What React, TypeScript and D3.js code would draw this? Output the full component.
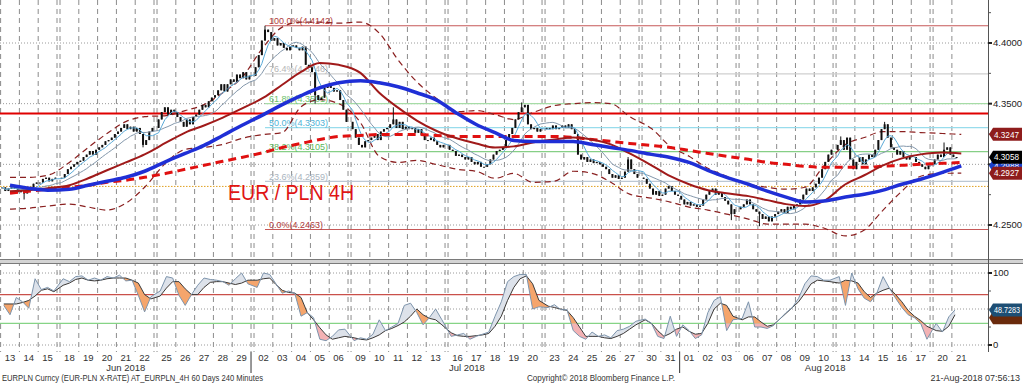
import React from "react";
import * as d3 from "d3";

// ---------------- DATA ----------------
const tradingDays = [
  "2018-06-13","2018-06-14","2018-06-15","2018-06-18","2018-06-19","2018-06-20","2018-06-21","2018-06-22",
  "2018-06-25","2018-06-26","2018-06-27","2018-06-28","2018-06-29","2018-07-02","2018-07-03","2018-07-04",
  "2018-07-05","2018-07-06","2018-07-09","2018-07-10","2018-07-11","2018-07-12","2018-07-13","2018-07-16",
  "2018-07-17","2018-07-18","2018-07-19","2018-07-20","2018-07-23","2018-07-24","2018-07-25","2018-07-26",
  "2018-07-27","2018-07-30","2018-07-31","2018-08-01","2018-08-02","2018-08-03","2018-08-06","2018-08-07",
  "2018-08-08","2018-08-09","2018-08-10","2018-08-13","2018-08-14","2018-08-15","2018-08-16","2018-08-17",
  "2018-08-20","2018-08-21"
];

// 4-hour closes, one row per trading day
const closes4h = [
  [4.281,4.278,4.280,4.283,4.280,4.277],
  [4.278,4.276,4.280,4.281,4.284,4.285],
  [4.285,4.288,4.289,4.286,4.288,4.289],
  [4.289,4.292,4.296,4.298,4.300,4.302],
  [4.303,4.306,4.308,4.311,4.308,4.312],
  [4.314,4.316,4.319,4.320,4.322,4.325],
  [4.327,4.330,4.333,4.329,4.331,4.327],
  [4.330,4.325,4.316,4.320,4.327,4.330],
  [4.337,4.343,4.347,4.341,4.345,4.343],
  [4.339,4.335,4.331,4.337,4.333,4.339],
  [4.341,4.345,4.349,4.347,4.352,4.355],
  [4.357,4.361,4.366,4.360,4.366,4.370],
  [4.368,4.374,4.371,4.376,4.370,4.373],
  [4.380,4.390,4.402,4.411,4.409,4.402],
  [4.404,4.398,4.400,4.396,4.394,4.397],
  [4.398,4.396,4.394,4.397,4.382,4.380],
  [4.376,4.357,4.353,4.355,4.363,4.366],
  [4.363,4.360,4.361,4.353,4.345,4.335],
  [4.329,4.322,4.316,4.314,4.319,4.320],
  [4.322,4.325,4.320,4.327,4.329,4.330],
  [4.333,4.337,4.330,4.335,4.329,4.331],
  [4.329,4.330,4.326,4.329,4.324,4.320],
  [4.320,4.322,4.319,4.316,4.314,4.316],
  [4.312,4.311,4.307,4.308,4.306,4.304],
  [4.306,4.302,4.300,4.302,4.298,4.298],
  [4.300,4.304,4.308,4.311,4.312,4.314],
  [4.320,4.325,4.330,4.337,4.343,4.347],
  [4.349,4.333,4.329,4.330,4.327,4.329],
  [4.330,4.329,4.332,4.329,4.330,4.332],
  [4.330,4.333,4.329,4.325,4.308,4.304],
  [4.306,4.302,4.304,4.301,4.302,4.300],
  [4.298,4.296,4.292,4.289,4.291,4.288],
  [4.289,4.294,4.304,4.296,4.292,4.289],
  [4.288,4.284,4.280,4.275,4.278,4.274],
  [4.275,4.280,4.282,4.278,4.275,4.274],
  [4.271,4.267,4.269,4.266,4.267,4.265],
  [4.266,4.271,4.275,4.278,4.280,4.275],
  [4.277,4.273,4.270,4.267,4.259,4.263],
  [4.265,4.267,4.271,4.267,4.263,4.261],
  [4.259,4.255,4.257,4.253,4.257,4.259],
  [4.261,4.263,4.260,4.265,4.263,4.266],
  [4.267,4.271,4.275,4.280,4.278,4.281],
  [4.284,4.289,4.296,4.302,4.308,4.312],
  [4.316,4.320,4.312,4.322,4.304,4.296],
  [4.302,4.306,4.300,4.304,4.308,4.306],
  [4.312,4.320,4.329,4.333,4.322,4.314],
  [4.312,4.308,4.311,4.306,4.304,4.307],
  [4.306,4.302,4.300,4.298,4.296,4.300],
  [4.304,4.308,4.306,4.312,4.314,4.308],
  [4.306,4.3058]
];

// notable wicks: [day index, bar index, extreme price]
const wicks = [
  [1,1,4.271],[13,3,4.4142],[15,4,4.392],[16,1,4.350],[20,1,4.347],[26,5,4.351],[32,2,4.306],
  [37,4,4.254],[39,0,4.249],[43,1,4.323],[45,3,4.335],[48,3,4.318],[7,2,4.314]
];

// daily readings of the slower studies (value at each day's middle)
const maBlue = [4.2828,4.2803,4.2787,4.2795,4.2828,4.2861,4.2893,4.2943,4.3025,4.3090,4.3156,4.3238,4.3320,
  4.3410,4.3492,4.3566,4.3631,4.3672,4.3689,4.3672,4.3639,4.3590,4.3533,4.3418,4.3328,4.3262,4.3197,4.3189,
  4.3189,4.3189,4.3164,4.3139,4.3115,4.3082,4.3057,4.3016,4.2951,4.2893,4.2836,4.2779,4.2730,4.2689,4.2697,
  4.2730,4.2754,4.2787,4.2836,4.2877,4.2934,4.2988];
const maDarkRed = [4.2779,4.2787,4.2803,4.2828,4.2885,4.2951,4.3016,4.3082,4.3180,4.3262,4.3320,4.3385,4.3459,
  4.3549,4.3656,4.3762,4.3836,4.3820,4.3754,4.3590,4.3467,4.3361,4.3279,4.3213,4.3172,4.3139,4.3148,4.3180,
  4.3205,4.3221,4.3205,4.3164,4.3090,4.2992,4.2902,4.2836,4.2787,4.2762,4.2738,4.2705,4.2672,4.2656,4.2697,
  4.2836,4.2910,4.2992,4.3049,4.3082,4.3098,4.3090];
const maRedDashed = [4.2762,4.2779,4.2795,4.2811,4.2828,4.2852,4.2869,4.2893,4.2926,4.2959,4.2992,4.3025,4.3057,
  4.3098,4.3139,4.3172,4.3205,4.3230,4.3238,4.3246,4.3246,4.3246,4.3238,4.3230,4.3230,4.3230,4.3230,4.3230,
  4.3230,4.3221,4.3205,4.3189,4.3172,4.3156,4.3139,4.3115,4.3090,4.3066,4.3041,4.3016,4.3000,4.2984,4.2975,
  4.2975,4.2975,4.2984,4.2992,4.3000,4.3008,4.3016];
const bandUpper = [4.2893,4.2893,4.2910,4.3016,4.3139,4.3254,4.3352,4.3393,4.3402,4.3443,4.3492,4.3590,4.3713,
  4.3967,4.4131,4.4172,4.4172,4.4164,4.4172,4.4082,4.3861,4.3680,4.3549,4.3434,4.3443,4.3410,4.3369,4.3426,
  4.3484,4.3500,4.3508,4.3500,4.3393,4.3295,4.3148,4.3066,4.2967,4.2902,4.2836,4.2811,4.2795,4.2811,4.2984,
  4.3164,4.3221,4.3270,4.3270,4.3262,4.3254,4.3247];
const bandLower = [4.2631,4.2639,4.2656,4.2672,4.2648,4.2623,4.2680,4.2811,4.3016,4.3123,4.3139,4.3164,4.3213,
  4.3246,4.3262,4.3475,4.3533,4.3500,4.3344,4.3066,4.3016,4.3033,4.3000,4.2959,4.2943,4.2885,4.2926,4.2852,
  4.2861,4.2943,4.2926,4.2852,4.2754,4.2721,4.2689,4.2648,4.2623,4.2590,4.2549,4.2508,4.2508,4.2508,4.2475,
  4.2410,4.2459,4.2623,4.2779,4.2902,4.2926,4.2927];

// stochastic oscillator, three readings per day
const stochFast = [
  [55,42,66],[60,51,92],[77,80,75],[92,88,95],[96,90,93],[90,95,93],[97,89,90],[69,46,67],[75,95,93],
  [69,55,70],[83,93,91],[90,88,83],[92,100,85],[80,100,98],[85,72,75],[72,40,45],[38,8,6],[12,21,22],
  [6,10,8],[15,35,20],[25,30,55],[58,45,28],[38,50,35],[12,14,16],[8,12,15],[18,40,60],[88,95,98],
  [98,50,53],[52,56,49],[49,20,12],[8,18,12],[14,10,20],[22,26,33],[36,30,12],[9,40,12],[28,20,9],
  [14,45,62],[67,20,35],[37,60,25],[25,23,27],[36,45,52],[65,85,96],[95,90,90],[95,55,100],[78,65,60],
  [72,95,79],[65,52,42],[38,30,8],[30,18,39],[48.7283]
];
const stochSlow = [
  [57,57,57],[59,62,68],[76,78,74],[83,86,91],[93,90,89],[90,92,93],[93,93,90],[86,70,64],[68,79,88],
  [88,78,70],[70,80,87],[88,88,86],[84,86,90],[90,92,93],[84,76,73],[72,66,45],[35,24,14],[8,10,12],
  [10,8,7],[10,14,20],[23,27,32],[40,50,42],[37,35,28],[17,13,12],[12,13,14],[16,26,40],[62,80,92],
  [96,85,62],[54,52,50],[48,38,25],[12,12,12],[10,9,12],[16,22,28],[35,30,20],[12,16,22],[25,19,15],
  [16,30,50],[58,55,40],[35,39,39],[32,26,28],[36,44,52],[60,72,85],[90,89,88],[86,90,89],[86,74,66],
  [72,76,79],[70,60,48],[40,34,26],[20,19,26],[42]
];

const fibLevels = [
  { pct: "100.0%", value: 4.4142, line: "#c65858", text: "#b03a3a" },
  { pct: "76.4%", value: 4.3746, line: "#cfcfcf", text: "#b5b5b5" },
  { pct: "61.8%", value: 4.3501, line: "#a6dca6", text: "#6cbf6c" },
  { pct: "50.0%", value: 4.3303, line: "#98dcec", text: "#4fb3d6" },
  { pct: "38.2%", value: 4.3105, line: "#86cf86", text: "#5cb85c" },
  { pct: "23.6%", value: 4.2859, line: "#bcc8d4", text: "#aab4be" },
  { pct: "0.0%", value: 4.2463, line: "#c65858", text: "#b03a3a" }
];
const fibAnchor = { day: 13, bar: 3 };

const priceTicks = [4.40, 4.35, 4.30, 4.25];
const priceMinorTicks = [4.425, 4.375, 4.325, 4.275];
const oscTicks = [100, 0];
const oscMinorTicks = [75, 50, 25];
const oscGrid = [100, 50, 0];
const oscLevels = [{ v: 70, c: "#c9504a" }, { v: 30, c: "#86d486" }];
const resistanceLevel = 4.3418;
const dottedLevel = 4.2818;
const lastPriceTags = [
  { v: 4.2988, fill: "#1b3fc8" },
  { v: 4.3247, fill: "#8e1c1c" },
  { v: 4.2927, fill: "#8e1c1c" },
  { v: 4.3058, fill: "#000000" }
];
const lastOscTag = 48.7283;
const titleText = "EUR / PLN 4H";
const footerLeft = "EURPLN Curncy (EUR-PLN X-RATE) AT_EURPLN_4H 60 Days 240 Minutes";
const footerMid = "Copyright\u00a9 2018 Bloomberg Finance L.P.";
const footerRight = "21-Aug-2018 07:56:13";

// ---------------- LAYOUT ----------------
const W = 1023, H = 384;
const PLOT_R = 988;
const MAIN_B = 259;
const OSC_T = 265, OSC_B = 352;
const DAY_PX = 18.8;
const WEEKEND_UNITS = 0.16;
const FONT = "'Liberation Sans', Arial, sans-serif";

export default function App() {
  const parse = d3.timeParse("%Y-%m-%d");
  const dates = tradingDays.map((s) => parse(s) as Date);
  let wk = 0;
  const dayU = dates.map((d, i) => {
    if (i > 0 && +d - +dates[i - 1] > 1.5 * 864e5) wk++;
    return i + wk * WEEKEND_UNITS;
  });
  const x = d3.scaleLinear().domain([0, 1]).range([0.6, 0.6 + DAY_PX]);
  const yP = d3.scaleLinear().domain([4.25, 4.40]).range([225, 43]);
  const yO = d3.scaleLinear().domain([0, 100]).range([345, 273]);

  type Bar = { t: number; o: number; c: number; hi: number; lo: number };
  const bars: Bar[] = [];
  let prev = closes4h[0][0];
  closes4h.forEach((row, i) => {
    row.forEach((c, j) => {
      const o = prev;
      bars.push({ t: dayU[i] + (j + 0.5) / 6, o, c, hi: Math.max(o, c), lo: Math.min(o, c) });
      prev = c;
    });
  });
  const barIndex = (d: number, b: number) => closes4h.slice(0, d).reduce((s, r) => s + r.length, 0) + b;
  wicks.forEach(([d, b, v]) => {
    const bar = bars[barIndex(d, b)];
    if (!bar) return;
    bar.hi = Math.max(bar.hi, v);
    bar.lo = Math.min(bar.lo, v);
  });

  const sma = (n: number) =>
    bars.map((b, k) => ({ t: b.t, v: d3.mean(bars.slice(Math.max(0, k - n + 1), k + 1), (q) => q.c) as number }));
  const thinFast = sma(5);
  const thinSlow = sma(12);

  const dayPts = (arr: number[]) => arr.map((v, i) => ({ t: dayU[i] + 0.5, v }));
  const lineP = d3.line<{ t: number; v: number }>().x((d) => x(d.t)).y((d) => yP(d.v)).curve(d3.curveMonotoneX);
  const lineLin = d3.line<{ t: number; v: number }>().x((d) => x(d.t)).y((d) => yP(d.v));

  const oscPts = (rows: number[][]) => {
    const out: { t: number; v: number }[] = [];
    rows.forEach((r, i) => r.forEach((v, k) => out.push({ t: dayU[i] + (k + 0.5) / 3, v })));
    return out;
  };
  const fast = oscPts(stochFast);
  const slow = oscPts(stochSlow);
  const both = fast.map((f, i) => ({ t: f.t, f: f.v, s: slow[i].v }));
  const lineO = d3.line<{ t: number; v: number }>().x((d) => x(d.t)).y((d) => yO(d.v));
  const areaBetween = d3.area<{ t: number; f: number; s: number }>().x((d) => x(d.t)).y0((d) => yO(d.s)).y1((d) => yO(d.f))(both) as string;
  const aboveSlow = d3.area<{ t: number; f: number; s: number }>().x((d) => x(d.t)).y0(OSC_T).y1((d) => yO(d.s))(both) as string;
  const belowSlow = d3.area<{ t: number; f: number; s: number }>().x((d) => x(d.t)).y0(OSC_B).y1((d) => yO(d.s))(both) as string;

  const gridX: number[] = [];
  dayU.forEach((u, i) => {
    const xs = x(u);
    if (!gridX.some((g) => Math.abs(g - xs) < 0.5)) gridX.push(xs);
    if (i < dayU.length - 1) {
      const xe = x(u + 1);
      if (!gridX.some((g) => Math.abs(g - xe) < 0.5)) gridX.push(xe);
    }
  });

  const monthFmt = d3.timeFormat("%b %Y");
  const months = d3.groups(dates.map((d, i) => ({ d, i })), (o) => monthFmt(o.d));
  const monthInfo = months.map(([name, arr]) => {
    const first = arr[0].i, last = arr[arr.length - 1].i;
    return { name, cx: (x(dayU[first]) + x(dayU[last] + 1)) / 2, endX: x(dayU[last] + 1), last };
  });

  const anchorX = x(dayU[fibAnchor.day] + (fibAnchor.bar + 0.5) / 6);
  const fmt4 = d3.format(".4f");

  const tag = (yc: number, fill: string, label: string | null, key: string) => (
    <g key={key}>
      <polygon
        points={`${PLOT_R + 1},${yc} ${PLOT_R + 5},${yc - 6.5} ${W - 1},${yc - 6.5} ${W - 1},${yc + 6.5} ${PLOT_R + 5},${yc + 6.5}`}
        fill={fill}
      />
      {label && (
        <text x={PLOT_R + 6} y={yc + 3.2} fontSize={8.5} fill="#fff" fontFamily={FONT}
          textLength={label.length > 6 ? 26 : 25} lengthAdjust="spacingAndGlyphs">
          {label}
        </text>
      )}
    </g>
  );

  return (
    <svg width={W} height={H} style={{ position: "absolute", left: 0, top: 0, background: "#fff" }} fontFamily={FONT}>
      <defs>
        <clipPath id="mainClip"><rect x={0} y={0} width={PLOT_R} height={MAIN_B} /></clipPath>
        <clipPath id="oscClip"><rect x={0} y={OSC_T} width={PLOT_R} height={OSC_B - OSC_T} /></clipPath>
        <clipPath id="aboveSlow"><path d={aboveSlow} /></clipPath>
        <clipPath id="belowSlow"><path d={belowSlow} /></clipPath>
        <clipPath id="above30"><rect x={0} y={OSC_T} width={PLOT_R} height={yO(30) - OSC_T} /></clipPath>
        <clipPath id="below30"><rect x={0} y={yO(30)} width={PLOT_R} height={OSC_B - yO(30)} /></clipPath>
      </defs>
      <rect x={0} y={0} width={W} height={H} fill="#fff" />

      {gridX.map((gx, i) => (
        <line key={"gx" + i} x1={gx} x2={gx} y1={0} y2={OSC_B} stroke="#8c8c8c" strokeWidth={1} strokeDasharray="5,4" />
      ))}

      {priceTicks.map((p) => (
        <line key={"hp" + p} x1={0} x2={PLOT_R} y1={yP(p)} y2={yP(p)} stroke="#9a9a9a" strokeDasharray="1,2" />
      ))}
      {oscGrid.map((v) => (
        <line key={"ho" + v} x1={0} x2={PLOT_R} y1={yO(v)} y2={yO(v)} stroke="#9a9a9a" strokeDasharray="1,2" />
      ))}

      <g clipPath="url(#mainClip)">
        {fibLevels.map((f) => (
          <g key={f.pct}>
            <line x1={anchorX} x2={PLOT_R} y1={yP(f.value)} y2={yP(f.value)} stroke={f.line} strokeWidth={1.2} />
            <text x={anchorX + 4} y={yP(f.value) - 1.5} fontSize={9} fill={f.text} fontFamily={FONT}>
              {`${f.pct}(${fmt4(f.value)})`}
            </text>
          </g>
        ))}
        <line x1={0} x2={PLOT_R} y1={yP(resistanceLevel)} y2={yP(resistanceLevel)} stroke="#e00000" strokeWidth={2} />
        <line x1={0} x2={PLOT_R} y1={yP(dottedLevel)} y2={yP(dottedLevel)} stroke="#e0a020" strokeWidth={1} strokeDasharray="1.5,1.5" />

        <text x={228} y={200} fontSize={22} fill="#e01515" textLength={126} lengthAdjust="spacingAndGlyphs" fontFamily={FONT}>
          {titleText}
        </text>

        <path d={lineP(dayPts(bandUpper)) as string} fill="none" stroke="#8a2020" strokeWidth={1.2} strokeDasharray="6,4" />
        <path d={lineP(dayPts(bandLower)) as string} fill="none" stroke="#8a2020" strokeWidth={1.2} strokeDasharray="6,4" />

        {bars.map((b, k) => {
          const cx = x(b.t);
          const top = yP(Math.max(b.o, b.c));
          const bot = yP(Math.min(b.o, b.c));
          return (
            <g key={"b" + k}>
              <line x1={cx} x2={cx} y1={yP(b.hi)} y2={yP(b.lo)} stroke="#111" strokeWidth={1} />
              <rect x={cx - 1} y={top} width={2} height={Math.max(1, bot - top)} fill="#111" />
            </g>
          );
        })}

        <path d={lineLin(thinSlow) as string} fill="none" stroke="#8397ab" strokeWidth={1} />
        <path d={lineLin(thinFast) as string} fill="none" stroke="#5aaad8" strokeWidth={1} />

        <path d={lineP(dayPts(maRedDashed)) as string} fill="none" stroke="#e01010" strokeWidth={3} strokeDasharray="8,5" />
        <path d={lineP(dayPts(maDarkRed)) as string} fill="none" stroke="#a01a1a" strokeWidth={2} />
        <path d={lineP(dayPts(maBlue)) as string} fill="none" stroke="#1f2fd6" strokeWidth={3.5} />
      </g>

      <rect x={0} y={259} width={W} height={5} fill="#d4d4d4" />
      <line x1={0} x2={W} y1={259.5} y2={259.5} stroke="#7a7a7a" />
      <line x1={0} x2={W} y1={263.5} y2={263.5} stroke="#7a7a7a" />

      <g clipPath="url(#oscClip)">
        {oscLevels.map((l) => (
          <line key={"ol" + l.v} x1={0} x2={PLOT_R} y1={yO(l.v)} y2={yO(l.v)} stroke={l.c} strokeWidth={1.2} />
        ))}
        <path d={areaBetween} fill="#dde2ea" clipPath="url(#aboveSlow)" />
        <g clipPath="url(#belowSlow)">
          <path d={areaBetween} fill="#f5a56c" clipPath="url(#above30)" />
          <path d={areaBetween} fill="#f3b2b4" clipPath="url(#below30)" />
        </g>
        <path d={lineO(slow) as string} fill="none" stroke="#3a3a3a" strokeWidth={1} />
        <path d={lineO(fast) as string} fill="none" stroke="#7d94ac" strokeWidth={1} />
      </g>

      <line x1={PLOT_R + 0.5} x2={PLOT_R + 0.5} y1={0} y2={OSC_B} stroke="#555" />
      {priceMinorTicks.map((p) => (
        <line key={"pm" + p} x1={PLOT_R} x2={PLOT_R + 3} y1={yP(p)} y2={yP(p)} stroke="#555" />
      ))}
      {priceTicks.map((p) => (
        <g key={"pt" + p}>
          <line x1={PLOT_R} x2={PLOT_R + 4} y1={yP(p)} y2={yP(p)} stroke="#222" strokeWidth={2} />
          <text x={PLOT_R + 5} y={yP(p) + 3.3} fontSize={9.5} fill="#222">{fmt4(p)}</text>
        </g>
      ))}
      {oscMinorTicks.map((v) => (
        <line key={"om" + v} x1={PLOT_R} x2={PLOT_R + 3} y1={yO(v)} y2={yO(v)} stroke="#555" />
      ))}
      {oscTicks.map((v) => (
        <g key={"ot" + v}>
          <line x1={PLOT_R} x2={PLOT_R + 4} y1={yO(v)} y2={yO(v)} stroke="#222" strokeWidth={2} />
          <text x={PLOT_R + 5} y={yO(v) + 3.3} fontSize={9.5} fill="#222">{String(v)}</text>
        </g>
      ))}
      {lastPriceTags.map((t, i) => tag(yP(t.v), t.fill, fmt4(t.v), "lt" + i))}
      {tag(yO(stochSlow[stochSlow.length - 1][0]) + 3, "#6a2a0c", null, "os2")}
      {tag(yO(lastOscTag), "#1d4e74", fmt4(lastOscTag), "os1")}

      {dates.map((d, i) => (
        <text key={"dl" + i} x={x(dayU[i] + 0.5)} y={361} fontSize={9.5} fill="#333" textAnchor="middle">
          {d3.timeFormat("%d")(d)}
        </text>
      ))}
      {monthInfo.map((m, i) => (
        <g key={m.name}>
          <text x={m.cx} y={371} fontSize={9.5} fill="#333" textAnchor="middle">{m.name}</text>
          {i < monthInfo.length - 1 && (
            <line x1={m.endX} x2={m.endX} y1={OSC_B} y2={373} stroke="#333" />
          )}
        </g>
      ))}

      <text x={2} y={381} fontSize={9} fill="#333" textLength={261} lengthAdjust="spacingAndGlyphs">{footerLeft}</text>
      <text x={527} y={381} fontSize={9} fill="#333" textLength={148} lengthAdjust="spacingAndGlyphs">{footerMid}</text>
      <text x={1020} y={381} fontSize={9} fill="#333" textAnchor="end">{footerRight}</text>
    </svg>
  );
}
